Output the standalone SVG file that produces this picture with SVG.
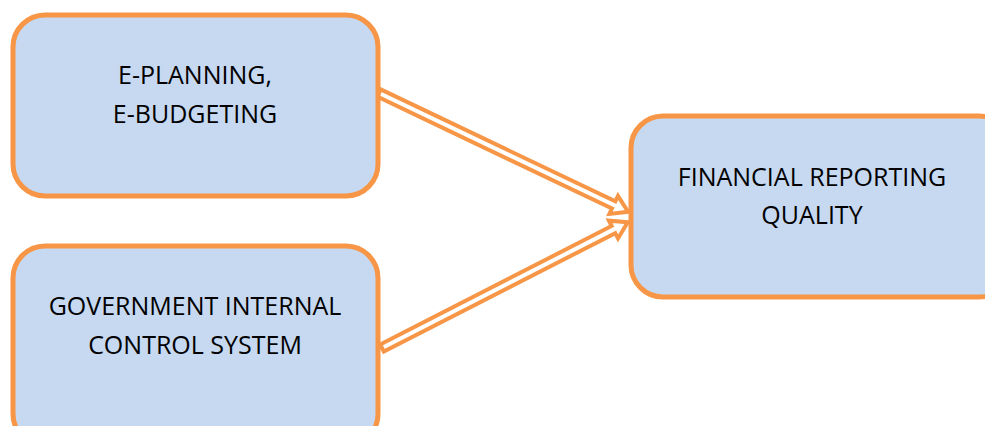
<svg xmlns="http://www.w3.org/2000/svg" width="985" height="426" viewBox="0 0 985 426">
<defs>
<style>
.box{fill:#C6D9F0;stroke:#F79646;stroke-width:5}
.lbl{font-family:"Open Sans","Noto Sans","Liberation Sans",sans-serif;font-size:25px;fill:#000;text-anchor:middle}
.arr{fill:#fff;stroke:#F79646;stroke-width:4;stroke-linejoin:miter}
</style>
<polygon id="darrow" class="arr" points="0,-4 260,-4 260,-10 276,0 260,10 260,4 0,4"/>
</defs>
<rect width="985" height="426" fill="#fff"/>
<g id="connectors">
<use href="#darrow" transform="translate(379,93) rotate(25.5)"/>
<use href="#darrow" transform="translate(382,348) rotate(-27.1)"/>
</g>
<g id="node-eplanning">
<rect class="box" x="13" y="15" width="365" height="181" rx="32"/>
<text class="lbl" x="195" y="84">E-PLANNING,</text>
<text class="lbl" x="195" y="123">E-BUDGETING</text>
</g>
<g id="node-gics">
<rect class="box" x="13" y="246" width="365" height="200" rx="32"/>
<text class="lbl" x="195" y="315">GOVERNMENT INTERNAL</text>
<text class="lbl" x="195" y="354">CONTROL SYSTEM</text>
</g>
<g id="node-frq">
<rect class="box" x="631" y="116" width="380" height="181" rx="32"/>
<text class="lbl" x="812" y="186">FINANCIAL REPORTING</text>
<text class="lbl" x="812" y="224">QUALITY</text>
</g>
</svg>
